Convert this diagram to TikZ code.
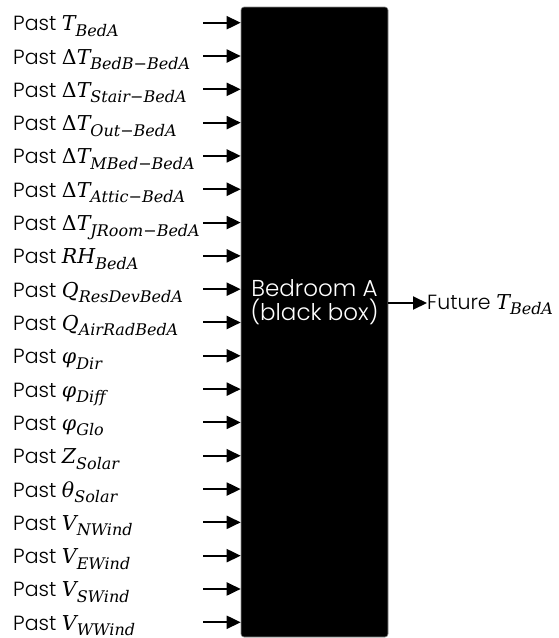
\documentclass[tikz,border=0pt]{standalone}
\usepackage{fontspec}
\setmainfont{Poppins}[UprightFont={* Light}]
\newfontfamily\mfont{DejaVu Serif}
\usetikzlibrary{arrows.meta}
\newcommand\Mv[2]{{\mfont\itshape #1}\raisebox{-5.5pt}{\fontsize{16}{16}\selectfont\mfont\itshape #2}}
\newcommand\Dl{{\mfont\upshape Δ}}
\newcommand\mn{{\upshape −}}
\tikzset{
  lab/.style={inner sep=0pt, anchor=base west, font=\fontsize{20.5}{24}\selectfont},
  arr/.style={line width=2pt, -{Triangle[length=14pt,width=13pt]}},
  bbox/.style={fill=black, draw=black!45, line width=0.6pt, rounded corners=3pt, minimum width=147pt, minimum height=630pt, inner sep=0pt},
  btext/.style={text=white, align=center, inner sep=0pt, font=\fontsize{23}{24}\selectfont}
}
\begin{document}
\begin{tikzpicture}[x=1pt,y=-1pt]
\useasboundingbox (0,0) rectangle (559,638);
\node[bbox] (box) at (314.5,322) {};
\node[btext] (boxtext) at (314.5,302) {Bedroom A\\(black box)};
\foreach \t [count=\i] in {
  {\Mv{T}{BedA}},
  {\Dl\Mv{T}{BedB\mn BedA}},
  {\Dl\Mv{T}{Stair\mn BedA}},
  {\Dl\Mv{T}{Out\mn BedA}},
  {\Dl\Mv{T}{MBed\mn BedA}},
  {\Dl\Mv{T}{Attic\mn BedA}},
  {\Dl\Mv{T}{JRoom\mn BedA}},
  {\Mv{RH}{BedA}},
  {\Mv{Q}{ResDevBedA}},
  {\Mv{Q}{AirRadBedA}},
  {\Mv{φ}{Dir}},
  {\Mv{φ}{Diff}},
  {\Mv{φ}{Glo}},
  {\Mv{Z}{Solar}},
  {\Mv{θ}{Solar}},
  {\Mv{V}{NWind}},
  {\Mv{V}{EWind}},
  {\Mv{V}{SWind}},
  {\Mv{V}{WWind}}}
{
  \pgfmathsetmacro\yy{22.7+33.31*(\i-1)}
  \node[lab] (l\i) at (13,\yy+8) {Past \t};
  \coordinate (s\i) at (203,\yy);
  \draw[arr] (s\i) -- (s\i -| box.west);
}
\node[lab] (out) at (427,309) {Future \Mv{T}{BedA}};
\coordinate (oy) at (0,303);
\draw[arr] (box.east |- oy) -- (out.west |- oy);
\end{tikzpicture}
\end{document}
